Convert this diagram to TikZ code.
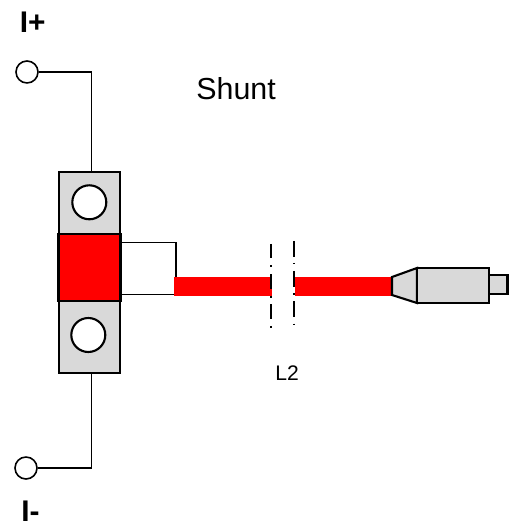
\documentclass[tikz,border=0pt]{standalone}
\usepackage{fontspec}
\setmainfont{Liberation Sans}
\begin{document}
\begin{tikzpicture}[x=0.02cm, y=-0.02cm]

\definecolor{shuntg}{rgb}{0.85,0.85,0.85}
\definecolor{shuntr}{rgb}{1,0,0}

\tikzset{
  wire/.style={line width=0.9pt},
  outline/.style={draw, line width=1.2pt, inner sep=0pt, outer sep=0pt},
  block/.style={outline, fill=shuntg, minimum width=1.23cm},
  hole/.style={outline, circle, fill=white, minimum size=0.68cm},
  terminal/.style={draw, line width=0.9pt, circle, fill=white, inner sep=0pt, minimum size=0.44cm},
  cable/.style={fill=shuntr, draw=none},
  breakline/.style={draw=black, line width=1pt}
}

\useasboundingbox (0,0) rectangle (516,526);

\node[terminal] (plus) at (27,72) {};
\node[terminal] (minus) at (26,468) {};

\node[block, minimum height=1.24cm] (topblock) at (89.5,203) {};
\node[block, minimum height=1.43cm] (botblock) at (89.5,337) {};
\node[outline, fill=shuntr, minimum width=1.24cm, minimum height=1.35cm] (core) at (89.5,267.7) {};
\node[hole] (tophole) at (89.3,202.3) {};
\node[hole] (bothole) at (88.3,335) {};

\coordinate (topin) at (91.5,172);
\coordinate (botin) at (91.5,373);
\draw[wire] (plus) -| (topin);
\draw[wire] (minus) -| (botin);

\coordinate (coreup) at (120.5,242.5);
\coordinate (coredown) at (120.5,294.5);
\coordinate (cablein) at (176,278);
\draw[wire] (coreup) -| (cablein);
\draw[wire] (coredown) -- (176,294.5);

\fill[cable] (174,277.3) rectangle (271.5,296);
\fill[cable] (294.7,277.3) rectangle (392,296);

% the two break marks, dash then dot
\foreach \ya/\yb/\yc in {244/258.5/266, 274/288.5/296.7, 304/319/326.7}
  {\draw[breakline] (271.3,\ya)--(271.3,\yb) (271.3,\yc-0.8)--(271.3,\yc+0.8);}
\foreach \ya/\yb/\yc in {241/256.7/263.7, 271/286.7/294, 301/316.7/324.3}
  {\draw[breakline] (293.7,\ya)--(293.7,\yb) (293.7,\yc-0.8)--(293.7,\yc+0.8);}

\draw[outline, fill=shuntg] (392,277)--(417,268)--(417,303)--(392,295)--cycle;
\draw[outline, fill=shuntg] (417,268) rectangle (489,303);
\draw[outline, fill=shuntg] (489,275) rectangle (507.5,294);

\node[font=\bfseries\fontsize{17}{20}\selectfont, anchor=base west, inner sep=0pt] (iplus) at (19.5,33) {I+};
\node[font=\bfseries\fontsize{17}{20}\selectfont, anchor=base west, inner sep=0pt] (iminus) at (21,521) {I-};
\node[font=\fontsize{17.3}{20}\selectfont, anchor=base west, inner sep=0pt] (shunt) at (196,100) {Shunt};
\node[font=\fontsize{12}{14}\selectfont, anchor=base west, inner sep=0pt] (ltwo) at (275,380) {L2};

\end{tikzpicture}
\end{document}
